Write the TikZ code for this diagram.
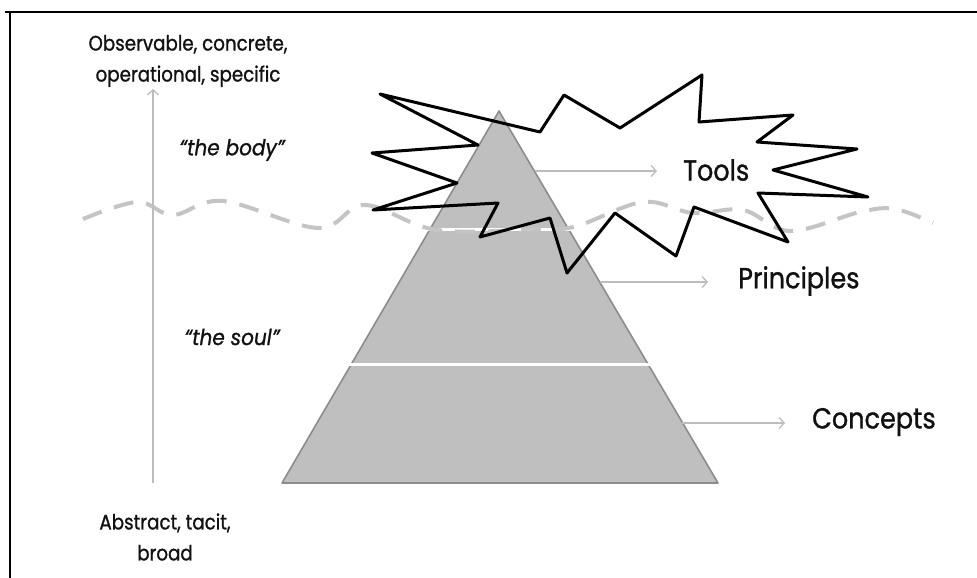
\documentclass[tikz,border=0pt]{standalone}
\usepackage{fontspec}
\setmainfont{Poppins}
\newfontfamily\bigfont{Poppins}[FakeStretch=0.88, FakeBold=1.0]
\newfontfamily\sidefont{Poppins}[FakeStretch=0.87, FakeBold=1.0]
\newfontfamily\quotefont{Poppins}[FakeStretch=0.91, FakeBold=1.0]
\usetikzlibrary{arrows.meta}
\definecolor{pyrfill}{HTML}{BFBFBF}
\definecolor{pyredge}{HTML}{8C8C8C}
\definecolor{arrowgray}{HTML}{BDBDBD}
\definecolor{wavegray}{HTML}{C4C4C4}
\definecolor{txt}{HTML}{111111}
\begin{document}
\begin{tikzpicture}[x=1pt,y=-1pt,
  pointer/.style={draw=arrowgray, line width=1.3pt, -{Straight Barb[length=5pt,width=11pt]}},
  biglabel/.style={anchor=west, inner sep=0pt, text=txt, font=\bigfont\fontsize{29}{34}\selectfont},
  sidelabel/.style={align=center, inner sep=0pt, text=txt, font=\sidefont\fontsize{21}{31}\selectfont},
  soullabel/.style={inner sep=0pt, text=txt, font=\quotefont\itshape\fontsize{22}{26}\selectfont},
  starline/.style={draw=black, line width=3pt, line join=round},
  waveline/.style={draw=wavegray, line width=4pt, dash pattern=on 20pt off 13pt}
]
\useasboundingbox (0,0) rectangle (977,578);
% frame (top and left edges)
\draw[line width=2.5pt] (5,12) -- (977,12);
\draw[line width=2.5pt] (10,12) -- (10,578);

% pyramid
\fill[pyrfill] (499,111) -- (718,483) -- (282,483) -- cycle;
\draw[pyredge, line width=1.6pt, line join=round] (499,111) -- (718,483) -- (282,483) -- cycle;
\draw[white, line width=3pt] (427,229) -- (571,229);
\draw[white, line width=3pt] (348,364) -- (652,364);

% wave
\draw[waveline] plot[smooth, tension=0.6] coordinates {(83,219) (137,202) (173,215) (223,201) (318,228) (365,205) (437,230) (540,229) (577,226) (643,202) (693,213) (743,210) (790,231) (860,212) (895,209) (933,223)};

% explosion
\draw[starline] (380,94) -- (540,132) -- (564,95) -- (620,128) -- (702,75) -- (699,122) -- (793,115) -- (757,142) -- (857,149) -- (773,170) -- (868,197) -- (758,193) -- (788,242) -- (694,207) -- (676,256) -- (615,213) -- (567,273) -- (550,218) -- (480,237) -- (498,203) -- (373,210) -- (457,183) -- (372,153) -- (478,145) -- cycle;

% labels
\node[biglabel] (tools) at (683,170) {Tools};
\node[biglabel] (principles) at (738,281) {Principles};
\node[biglabel] (concepts) at (812,422) {Concepts};

\coordinate (toolsA) at (535,171);
\coordinate (princA) at (600,282);
\coordinate (concA) at (682,423);
\draw[pointer] (toolsA) -- ([xshift=-26pt]tools.west |- toolsA);
\draw[pointer] (princA) -- ([xshift=-30pt]principles.west |- princA);
\draw[pointer] (concA) -- ([xshift=-27pt]concepts.west |- concA);

% side axis
\node[sidelabel] (top) at (188,61) {Observable, concrete,\\operational, specific};
\node[sidelabel] (bottom) at (165,537) {Abstract, tacit,\\broad};
\coordinate (vbot) at (153,483);
\coordinate (vtop) at (153,89);
\draw[pointer] (vbot) -- (vtop);

\node[soullabel] (body) at (232,150) {“the body”};
\node[soullabel] (soul) at (232,337) {“the soul”};
\end{tikzpicture}
\end{document}
